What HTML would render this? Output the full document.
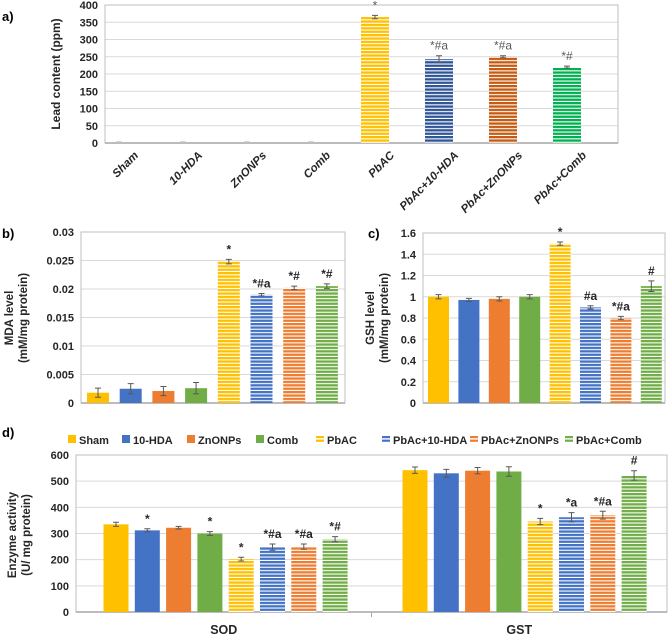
<!DOCTYPE html>
<html><head><meta charset="utf-8">
<style>
html,body{margin:0;padding:0;background:#fff;}
svg{display:block;font-family:"Liberation Sans",sans-serif;}
</style></head>
<body>
<svg id="fig" width="669" height="637" viewBox="0 0 669 637" xmlns="http://www.w3.org/2000/svg">
<defs>
<pattern id="pY" patternUnits="userSpaceOnUse" width="4" height="3.4"><rect width="4" height="3.4" fill="#fff"/><rect width="4" height="2.3" fill="#FFC000"/></pattern>
<pattern id="pB" patternUnits="userSpaceOnUse" width="4" height="3.4"><rect width="4" height="3.4" fill="#fff"/><rect width="4" height="2.3" fill="#4472C4"/></pattern>
<pattern id="pO" patternUnits="userSpaceOnUse" width="4" height="3.4"><rect width="4" height="3.4" fill="#fff"/><rect width="4" height="2.3" fill="#ED7D31"/></pattern>
<pattern id="pG" patternUnits="userSpaceOnUse" width="4" height="3.4"><rect width="4" height="3.4" fill="#fff"/><rect width="4" height="2.3" fill="#70AD47"/></pattern>
<pattern id="pB2" patternUnits="userSpaceOnUse" width="4" height="3.4"><rect width="4" height="3.4" fill="#fff"/><rect width="4" height="2.3" fill="#2F5597"/></pattern>
<pattern id="pO2" patternUnits="userSpaceOnUse" width="4" height="3.4"><rect width="4" height="3.4" fill="#fff"/><rect width="4" height="2.3" fill="#C55A11"/></pattern>
<pattern id="pG2" patternUnits="userSpaceOnUse" width="4" height="3.4"><rect width="4" height="3.4" fill="#fff"/><rect width="4" height="2.3" fill="#00B050"/></pattern>
</defs>
<g id="root"></g>
</svg>
<script>
// ---- Data ----
const groups = ["Sham","10-HDA","ZnONPs","Comb","PbAC","PbAc+10-HDA","PbAc+ZnONPs","PbAc+Comb"];
const leadValues = [0,0,0,0,365,243,250,220];
const leadErrors = [0,0,0,0,5,10,3,3];
const leadMarks = ["","","","","*","*#a","*#a","*#"];
const leadTicks = [0,50,100,150,200,250,300,350,400];
const mdaValues = [0.0018,0.0025,0.0021,0.0026,0.0248,0.019,0.0202,0.0205];
const mdaErrors = [0.0008,0.0009,0.0008,0.001,0.0004,0.0002,0.0003,0.0004];
const mdaMarks = ["","","","","*","*#a","*#","*#"];
const mdaTicks = [0,0.005,0.01,0.015,0.02,0.025,0.03];
const gshValues = [1.0,0.97,0.98,1.0,1.5,0.9,0.8,1.1];
const gshErrors = [0.02,0.015,0.02,0.02,0.015,0.015,0.015,0.05];
const gshMarks = ["","","","","*","#a","*#a","#"];
const gshTicks = [0,0.2,0.4,0.6,0.8,1,1.2,1.4,1.6];
const enzymes = ["SOD","GST"];
const sodValues = [335,312,322,300,202,248,250,278];
const sodErrors = [8,6,5,7,7,12,10,10];
const sodMarks = ["","*","","*","*","*#a","*#a","*#"];
const gstValues = [542,530,540,537,346,362,370,522];
const gstErrors = [12,15,12,18,12,18,15,18];
const gstMarks = ["","","","","*","*a","*#a","#"];
const enzTicks = [0,100,200,300,400,500,600];

const fillsStd = ["#FFC000","#4472C4","#ED7D31","#70AD47","url(#pY)","url(#pB)","url(#pO)","url(#pG)"];
const fillsA = ["#FFC000","#4472C4","#ED7D31","#70AD47","url(#pY)","url(#pB2)","url(#pO2)","url(#pG2)"];

const NS="http://www.w3.org/2000/svg";
const root=document.getElementById('root');
function mk(tag,attrs,parent,text){const e=document.createElementNS(NS,tag);for(const k in attrs)e.setAttribute(k,attrs[k]);if(text!==undefined)e.textContent=text;(parent||root).appendChild(e);return e;}
function fmt(v){return String(+v.toFixed(4));}

function axisY(p){return v=>p.bottom-(v-p.min)/(p.max-p.min)*(p.bottom-p.top);}

function frame(p,name){
  const g=mk('g',{});
  
  
  const y=axisY(p);
  p.ticks.forEach(t=>{
    const l=mk('line',{x1:p.left,x2:p.right,y1:y(t),y2:y(t),stroke:'#d9d9d9','stroke-width':1},g);
    
    
    const tx=mk('text',{x:p.left-7,y:y(t)+4,'text-anchor':'end','font-size':p.fs||11,'font-weight':'bold',fill:'#262626'},g,fmt(t));
    
    
  });
  const r=mk('rect',{x:p.left,y:p.top,width:p.right-p.left,height:p.bottom-p.top,fill:'none',stroke:'#bfbfbf','stroke-width':1},g);
  
  
  const ax=mk('line',{x1:p.left,x2:p.right,y1:p.bottom,y2:p.bottom,stroke:'#a6a6a6','stroke-width':1.5},g);
  
  
  return g;
}

function bars(p,vals,errs,marks,fills,x0,step,bw,name){
  const y=axisY(p);
  vals.forEach((v,i)=>{
    const cx=x0+i*step;
    const b=mk('rect',{x:cx-bw/2,y:y(v),width:bw,height:Math.max(0,p.bottom-y(v)),fill:fills[i]});
    
    
    const e=errs[i];
    if(e>0){
      const eg=mk('path',{d:`M${cx},${y(v+e)}V${y(v-e)}M${cx-3},${y(v+e)}H${cx+3}M${cx-3},${y(v-e)}H${cx+3}`,stroke:'#595959','stroke-width':1,fill:'none'});
      
      
    } else {
      const m=mk('line',{x1:cx-3,x2:cx+3,y1:p.bottom-1,y2:p.bottom-1,stroke:'#c8c8c8','stroke-width':1.5});
      
      
    }
    if(marks[i]){
      const t=mk('text',{x:cx,y:y(v+e)-6,'text-anchor':'middle','font-size':p.mfs||12,'font-weight':p.mw||'bold',fill:p.mc||'#262626'},root,marks[i]);
      
      
    }
  });
}

function title(x,y,lines,fs){
  const t=mk('text',{transform:`translate(${x},${y}) rotate(-90)`,'text-anchor':'middle','font-size':fs,'font-weight':'bold',fill:'#262626'});
  
  
  lines.forEach((s,i)=>{mk('tspan',{x:0,dy:i?14:0},t,s);});
}
function panel(x,y,s){
  const t=mk('text',{x:x,y:y,'font-size':13,'font-weight':'bold',fill:'#000'},root,s);
  
  
}

// ---- Panel a ----
panel(2,21,'a)');
const pa={left:105,right:618,top:5,bottom:143,min:0,max:400,ticks:leadTicks,mfs:12,mw:'normal',mc:'#595959'};
frame(pa,'lead');
bars(pa,leadValues,leadErrors,leadMarks,fillsA,119,64,28,'lead');
groups.forEach((gname,i)=>{
  const cx=119+i*64;
  const t=mk('text',{transform:`translate(${cx+20},${156}) rotate(-45)`,'text-anchor':'end','font-size':11.5,'font-weight':'bold','font-style':'italic',fill:'#262626'},root,gname);
  
  
});
title(60,74,['Lead content (ppm)'],12);

// ---- Panel b ----
panel(2,238,'b)');
const pb={left:81,right:345,top:232,bottom:403,min:0,max:0.03,ticks:mdaTicks};
frame(pb,'mda');
bars(pb,mdaValues,mdaErrors,mdaMarks,fillsStd,98,32.7,22,'mda');
title(13,318,['MDA level','(mM/mg protein)'],11.5);

// ---- Panel c ----
panel(368,238,'c)');
const pc={left:423,right:665,top:233,bottom:403,min:0,max:1.6,ticks:gshTicks};
frame(pc,'gsh');
bars(pc,gshValues,gshErrors,gshMarks,fillsStd,438.5,30.4,21,'gsh');
title(374,318,['GSH level','(mM/mg protein)'],11.5);

// ---- Legend ----
panel(2,437,'d)');
const legX=[72,126,191,260,320,386,474,569];
const leg=mk('g',{});


groups.forEach((gname,i)=>{
  const e=mk('g',{},leg);
  
  
  const x=legX[i];
  if(i<4){mk('rect',{x:x-4,y:435,width:8,height:8,fill:fillsStd[i]},e);}
  else{mk('rect',{x:x-4,y:436,width:8,height:2.2,fill:fillsStd[i-4]},e);mk('rect',{x:x-4,y:439.6,width:8,height:2.2,fill:fillsStd[i-4]},e);}
  mk('text',{x:x+7,y:444,'font-size':11,'font-weight':'bold',fill:'#262626'},e,gname);
});

// ---- Panel d ----
const pd={left:76,right:667,top:455,bottom:612,min:0,max:600,ticks:enzTicks};
frame(pd,'enzyme');
bars(pd,sodValues,sodErrors,sodMarks,fillsStd,116,31.3,25,'sod');
bars(pd,gstValues,gstErrors,gstMarks,fillsStd,415,31.3,25,'gst');
const tk=mk('line',{x1:(pd.left+pd.right)/2,x2:(pd.left+pd.right)/2,y1:pd.bottom,y2:pd.bottom+5,stroke:'#a6a6a6'});


enzymes.forEach((s,i)=>{
  const cx=pd.left+(pd.right-pd.left)*(i+0.5)/2;
  const t=mk('text',{x:cx,y:634,'text-anchor':'middle','font-size':12.5,'font-weight':'bold',fill:'#262626'},root,s);
  
  
});
title(16,535,['Enzyme activity','(U/ mg protein)'],11.5);
</script>
</body></html>
